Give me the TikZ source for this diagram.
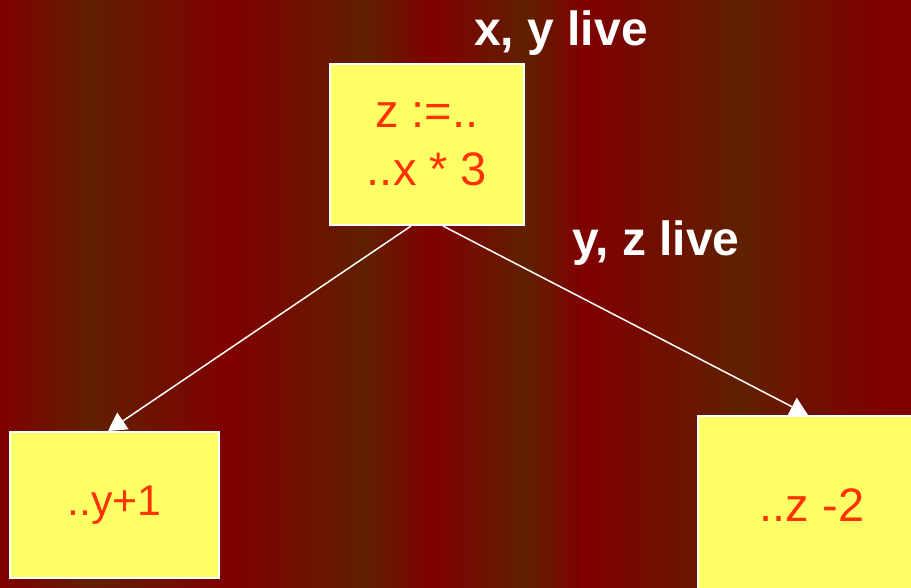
\documentclass[tikz,border=0pt]{standalone}
\usepackage{fontspec}
\setmainfont{Liberation Sans}
\usetikzlibrary{arrows.meta,positioning}
\definecolor{stripered}{HTML}{800000}
\definecolor{stripebrown}{HTML}{602000}
\definecolor{boxfill}{HTML}{FFFF66}
\definecolor{codered}{HTML}{FF3300}
\begin{document}
\begin{tikzpicture}[x=1pt, y=-1pt,
  block/.style={draw=white, line width=2pt, fill=boxfill, text=codered, align=center, font=\fontsize{47}{58}\selectfont},
  live/.style={text=white, font=\bfseries\fontsize{48}{56}\selectfont},
  arrow/.style={-{Triangle[length=18pt, width=20pt]}, draw=white, fill=white, line width=1.5pt}]
\clip (0,0) rectangle (911,588);
\useasboundingbox (0,0) rectangle (911,588);
% background stripes
\foreach \a/\b/\ca/\cb in {0/90/stripered/stripebrown, 90/230/stripebrown/stripered, 230/365/stripered/stripebrown, 365/433/stripebrown/stripered, 433/527/stripered/stripebrown, 527/583/stripebrown/stripered, 583/740/stripered/stripebrown, 740/883/stripebrown/stripered, 883/911/stripered/stripered}
  \shade[left color=\ca, right color=\cb] (\a-0.5,-1) rectangle (\b+0.5,589);
\node[block, minimum width=194pt, minimum height=161pt] (def) at (427,144.5) {z :=..\\..x * 3};
\node[block, minimum width=209pt, minimum height=146pt, font=\fontsize{43}{50}\selectfont] (usey) at (114.5,505) {..y+1};
\node[block, minimum width=228pt, minimum height=178pt] (usez) at (812,505) {..z -2};
\node[live] (livein) at (561,33) {x, y live};
\node[live] (liveout) at (656,243) {y, z live};
\draw[arrow] ([xshift=-16pt]def.south) -- ([xshift=-6.5pt]usey.north);
\draw[arrow] ([xshift=16pt]def.south) -- ([xshift=111pt]usez.north west);
\end{tikzpicture}
\end{document}
